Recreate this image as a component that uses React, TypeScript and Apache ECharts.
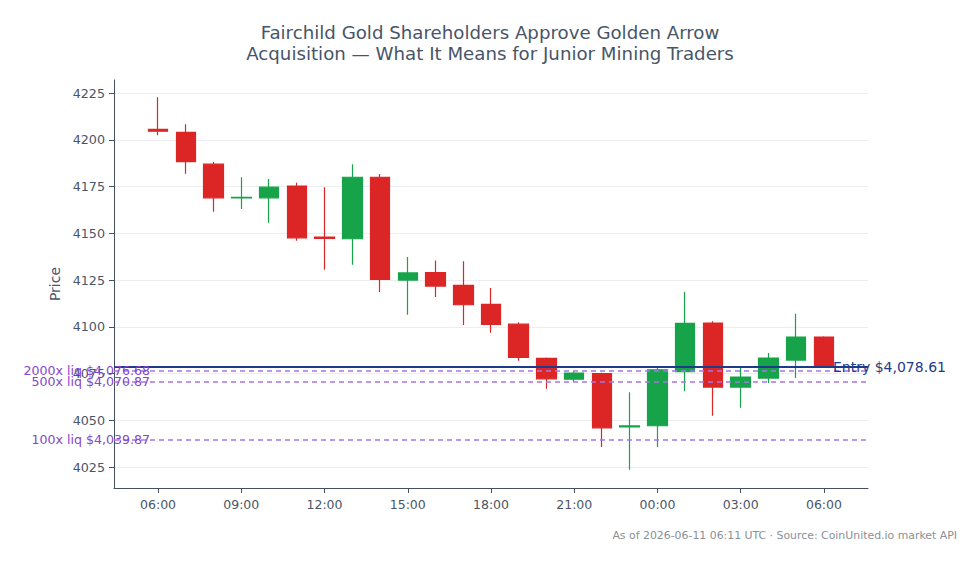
import React, { useEffect, useRef } from "react";
import * as echarts from "echarts";

const times = [
  "06-10 06:00", "06-10 07:00", "06-10 08:00", "06-10 09:00", "06-10 10:00",
  "06-10 11:00", "06-10 12:00", "06-10 13:00", "06-10 14:00", "06-10 15:00",
  "06-10 16:00", "06-10 17:00", "06-10 18:00", "06-10 19:00", "06-10 20:00",
  "06-10 21:00", "06-10 22:00", "06-10 23:00", "06-11 00:00", "06-11 01:00",
  "06-11 02:00", "06-11 03:00", "06-11 04:00", "06-11 05:00", "06-11 06:00",
];
const opens = [4205.6, 4204.0, 4187.0, 4169.0, 4169.0, 4175.3, 4148.0, 4147.1, 4180.0, 4125.0, 4129.0, 4122.2, 4112.0, 4101.4, 4083.1, 4072.0, 4075.0, 4046.5, 4047.1, 4076.0, 4102.0, 4067.8, 4072.6, 4082.2, 4094.5];
const closes = [4204.6, 4188.3, 4169.0, 4169.3, 4174.7, 4147.6, 4147.3, 4180.0, 4125.3, 4128.8, 4121.8, 4111.8, 4101.3, 4083.7, 4072.2, 4075.3, 4046.0, 4047.0, 4077.0, 4101.8, 4067.8, 4073.1, 4083.3, 4094.5, 4079.0];
const lows = [4202.4, 4181.8, 4161.5, 4163.0, 4155.6, 4146.0, 4130.5, 4133.2, 4118.6, 4106.5, 4116.0, 4101.0, 4096.8, 4081.8, 4066.9, 4070.6, 4035.7, 4023.6, 4035.7, 4065.6, 4052.4, 4056.7, 4070.0, 4072.6, 4078.9];
const highs = [4222.8, 4208.4, 4188.1, 4180.0, 4179.0, 4177.0, 4174.7, 4187.0, 4181.7, 4137.3, 4135.5, 4135.0, 4120.7, 4102.5, 4083.6, 4076.3, 4075.4, 4065.0, 4078.6, 4118.7, 4103.0, 4078.0, 4086.0, 4107.0, 4095.0];

const yTicks = [4025, 4050, 4075, 4100, 4125, 4150, 4175, 4200, 4225];

const entryPrice = 4078.61;
const liqNames = ["2000x liq", "500x liq", "100x liq"];
const liqPrices = [4076.68, 4070.87, 4039.87];

const titleText = "Fairchild Gold Shareholders Approve Golden Arrow\nAcquisition — What It Means for Junior Mining Traders";
const footerText = "As of 2026-06-11 06:11 UTC · Source: CoinUnited.io market API";

const yMin = 4013.8;
const yMax = 4232;

const FONT = "DejaVu Sans";
const AXIS_COLOR = "#44505f";
const LABEL_COLOR = "#4a5568";
const UP = "#16a34a";
const DOWN = "#dc2626";
const ENTRY = "#1e3a8a";
const LIQ_LINE = "#a575ea";
const LIQ_TEXT = "#8545cc";

const fmt = (v: number) =>
  "$" + v.toLocaleString("en-US", { minimumFractionDigits: 2, maximumFractionDigits: 2 });

export default function App() {
  const ref = useRef<HTMLDivElement>(null);

  useEffect(() => {
    if (!ref.current) return;
    const chart = echarts.init(ref.current, undefined, { renderer: "svg" });
    const candleData = times.map((_, i) => [opens[i], closes[i], lows[i], highs[i]]);

    const gridTop = 80;
    const gridBottom = 76;

    const option: any = {
      animation: false,
      backgroundColor: "#ffffff",
      textStyle: { fontFamily: FONT },
      title: [
        {
          text: titleText,
          left: "center",
          top: 17,
          textStyle: { fontFamily: FONT, fontSize: 18.2, fontWeight: "normal", color: "#475569", lineHeight: 21 },
        },
        {
          text: footerText,
          right: 18,
          top: 525,
          textStyle: { fontFamily: FONT, fontSize: 10.9, fontWeight: "normal", color: "#8a8f98" },
        },
      ],
      grid: [
        { left: 114, right: 112, top: gridTop, bottom: gridBottom },
        { left: 144.15, right: 142.15, top: gridTop, bottom: gridBottom },
      ],
      xAxis: [
        {
          type: "value",
          gridIndex: 0,
          min: 0,
          max: 1,
          axisLine: { show: true, lineStyle: { color: AXIS_COLOR, width: 1 } },
          axisTick: { show: false },
          axisLabel: { show: false },
          splitLine: { show: false },
        },
        {
          type: "category",
          gridIndex: 1,
          data: times,
          boundaryGap: true,
          axisLine: { show: false },
          axisTick: { show: true, alignWithLabel: true, interval: 2, length: 5, lineStyle: { color: AXIS_COLOR } },
          axisLabel: {
            interval: 2,
            color: LABEL_COLOR,
            fontFamily: FONT,
            fontSize: 12.5,
            margin: 10,
            formatter: (v: string) => v.slice(-5),
          },
          splitLine: { show: false },
        },
      ],
      yAxis: [
        {
          type: "value",
          gridIndex: 0,
          min: yMin,
          max: yMax,
          name: "Price",
          nameLocation: "middle",
          nameGap: 36,
          nameTextStyle: { color: LABEL_COLOR, fontFamily: FONT, fontSize: 14 },
          axisLine: { show: true, lineStyle: { color: AXIS_COLOR, width: 1 } },
          axisTick: { show: true, length: 5, customValues: yTicks, lineStyle: { color: AXIS_COLOR } },
          axisLabel: {
            color: LABEL_COLOR,
            fontFamily: FONT,
            fontSize: 12.7,
            margin: 9,
            customValues: yTicks,
            formatter: (v: number) => String(v),
          },
          splitLine: { show: true, lineStyle: { color: "#eceef1", width: 1 } },
        },
        {
          type: "value",
          gridIndex: 1,
          min: yMin,
          max: yMax,
          show: false,
          splitLine: { show: false },
        },
      ],
      series: [
        {
          type: "line",
          xAxisIndex: 0,
          yAxisIndex: 0,
          data: [],
          silent: true,
          markLine: {
            silent: true,
            symbol: ["none", "none"],
            data: [
              ...liqPrices.map((p, i) => ({
                yAxis: p,
                lineStyle: { color: LIQ_LINE, type: [5, 4], width: 1.5 },
                label: {
                  show: true,
                  position: "start",
                  formatter: `${liqNames[i]} ${fmt(p)}`,
                  color: LIQ_TEXT,
                  fontFamily: FONT,
                  fontSize: 12.6,
                  offset: [41, 0],
                },
              })),
              {
                yAxis: entryPrice,
                lineStyle: { color: ENTRY, type: "solid", width: 2 },
                label: {
                  show: true,
                  position: "end",
                  formatter: `Entry ${fmt(entryPrice)}`,
                  color: ENTRY,
                  fontFamily: FONT,
                  fontSize: 14,
                  offset: [-40, 0],
                },
              },
            ],
          },
        },
        {
          type: "candlestick",
          xAxisIndex: 1,
          yAxisIndex: 1,
          data: candleData,
          barWidth: 20,
          itemStyle: {
            color: UP,
            color0: DOWN,
            borderColor: UP,
            borderColor0: DOWN,
            borderWidth: 1.2,
          },
        },
      ],
    };

    chart.setOption(option);
    return () => chart.dispose();
  }, []);

  return <div ref={ref} style={{ position: "absolute", left: 0, top: 0, width: 980, height: 564 }} />;
}
